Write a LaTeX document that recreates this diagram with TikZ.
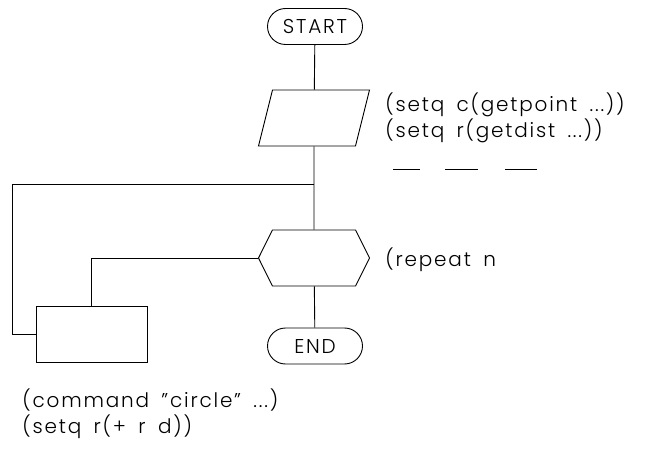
\documentclass[tikz,border=0pt]{standalone}
\usepackage{fontspec}
\setmainfont{Poppins}[UprightFont=* Light, LetterSpace=9, WordSpace=1.7]
\usetikzlibrary{shapes.misc,shapes.symbols}

\begin{document}
\begin{tikzpicture}[x=1pt, y=-1pt, line width=0.9pt,
    font=\fontsize{20}{26}\selectfont,
    terminal/.style={draw, rounded rectangle, minimum width=95, minimum height=36, inner sep=0pt},
    io/.style={draw, rectangle, xslant=0.25, transform shape, minimum width=97, minimum height=56, inner sep=0pt},
    loophead/.style={draw, signal, signal to=west and east, signal pointer angle=127,
        minimum width=111, minimum height=56, inner sep=0pt},
    process/.style={draw, rectangle, minimum width=111, minimum height=56, inner sep=0pt},
    code/.style={anchor=west, align=left, inner sep=0pt},
    blank/.style={line width=0.9pt}]
        \useasboundingbox (0,0) rectangle (656,457);
        % Flow chart of the circle loop
        \node[terminal] (start) at (315,26.5) {START};
        \node[io] (input) at (314,118) {};
        \node[loophead] (loop) at (314,258) {};
        \node[terminal] (stop) at (315,346) {END};
        \node[process] (body) at (91.5,334) {};
        \coordinate (join) at (314,184);

        % Code written beside the boxes
        \node[code] (inputcode) at (385,118) {(setq c(getpoint ...))\\(setq r(getdist ...))};
        \node[code] (loopcode) at (385,260) {(repeat n};
        \node[code] (bodycode) at (22,414) {(command ''circle'' ...)\\(setq r(+ r d))};

        % three blanks under the code
        \foreach \x/\w in {393/27, 445/33, 505/32}
            \draw[blank] (\x,169) -- ++(\w,0);

        \draw (start) -- (input);
        \draw (input) -- (loop);
        \draw (loop) -- (stop);
        \draw (loop.west) -| (body.north);
        \draw (body.west) -- ++(-23,0) |- (join);
    \end{tikzpicture}
\end{document}
